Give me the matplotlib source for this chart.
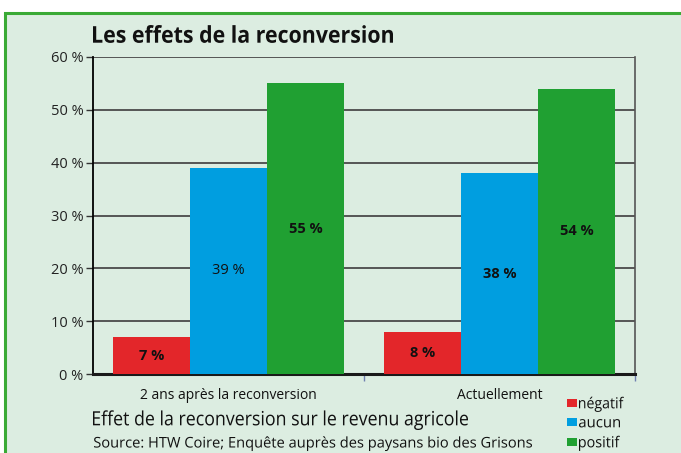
import matplotlib.pyplot as plt
import numpy as np
from matplotlib.patches import Rectangle, PathPatch
from matplotlib.textpath import TextPath
from matplotlib.font_manager import FontProperties
from matplotlib.transforms import Affine2D

categories = ['2 ans après la reconversion', 'Actuellement']
series = ['négatif', 'aucun', 'positif']
values = {'négatif': [7, 8], 'aucun': [39, 38], 'positif': [55, 54]}
colors = {'négatif': '#e3262a', 'aucun': '#009ee0', 'positif': '#20a032'}
# which labels are bold in the original
bold = {'négatif': [True, True], 'aucun': [False, True], 'positif': [True, True]}

title = 'Les effets de la reconversion'
subtitle = 'Effet de la reconversion sur le revenu agricole'
source = 'Source: HTW Coire; Enquête auprès des paysans bio des Grisons'

W, H = 681, 453
fig = plt.figure(figsize=(W / 100, H / 100), dpi=100)
fig.patch.set_facecolor('white')
bg = '#dcede1'
# framed panel with green border
fig.patches.append(Rectangle((5 / W, -0.01), 1.0, (H - 13) / H + 0.01, transform=fig.transFigure,
                             facecolor=bg, edgecolor='#3aaa35', linewidth=2.2, zorder=-10))


def ctext(s, x0, base, width, cap, weight='normal', family='Open Sans'):
    # condensed text: glyph outlines scaled to a given width and cap height (pixels)
    fp = FontProperties(family=family, weight=weight)
    p = TextPath((0, 0), s, size=10, prop=fp)
    hp = TextPath((0, 0), 'H', size=10, prop=fp)
    ext = p.get_extents()
    sx = width / ext.width
    sy = cap / hp.get_extents().height
    tr = Affine2D().translate(-ext.x0, 0).scale(sx, sy).translate(x0, H - base)
    fig.patches.append(PathPatch(p, transform=tr, facecolor='#111111', edgecolor='none', lw=0))


ax = fig.add_axes([93 / W, 1 - 374 / H, (635 - 93) / W, (374 - 57) / H])
ax.set_facecolor(bg)

x = np.arange(len(categories))
bw = 0.285
for i, s in enumerate(series):
    pos = x + (i - 1) * bw
    ax.bar(pos, values[s], width=bw, color=colors[s], zorder=3, label=s)
    for p, v, b in zip(pos, values[s], bold[s]):
        ax.text(p, v / 2, f'{v} %', ha='center', va='center', fontsize=10.5,
                fontweight='bold' if b else 'normal', color='#111111', zorder=4,
                family=['Open Sans', 'DejaVu Sans'])

ax.set_xlim(-0.5, 1.5)
ax.set_ylim(0, 60)
ax.set_yticks(range(0, 61, 10))
ax.set_yticklabels([f'{t} %' for t in range(0, 61, 10)], fontsize=10.5,
                   family=['Open Sans', 'DejaVu Sans'], color='#222222')
ax.yaxis.grid(True, color='#4a4a4a', linewidth=1.3, zorder=1)
ax.set_axisbelow(True)
ax.tick_params(axis='y', length=5, width=1, color='#333333', pad=2)
ax.set_xticks([0.5, 1.5])
ax.set_xticklabels([])
ax.tick_params(axis='x', length=5, width=1, color='#7080b0', direction='out')
ax.spines['top'].set_visible(False)
ax.spines['right'].set_color('#555555')
ax.spines['right'].set_linewidth(1.2)
ax.spines['left'].set_linewidth(1.3)
ax.spines['bottom'].set_linewidth(2.2)
ax.spines['bottom'].set_color('#1a1a1a')

for i, c in enumerate(categories):
    ax.text(x[i], -2.6, c, ha='center', va='top', fontsize=10, family=['Open Sans', 'DejaVu Sans'],
            color='#111111')

ctext(title, 93, 42.7, 300, 16.5, weight='bold')
ctext(subtitle, 93, 425.3, 375, 14)
ctext(source, 94, 447.5, 438, 10.5)

# legend
legend_y = [403, 422, 442]
legend_w = [45, 41, 41]
for k, s in enumerate(series):
    yc = legend_y[k]
    fig.patches.append(Rectangle((566.5 / W, 1 - (yc + 4) / H), 10 / W, 8 / H, transform=fig.transFigure,
                                 facecolor=colors[s], edgecolor='none', zorder=3))
    ctext(s, 579, yc + 5.3, legend_w[k], 10.8)

fig.savefig('out.png', dpi=100, facecolor=fig.get_facecolor())
